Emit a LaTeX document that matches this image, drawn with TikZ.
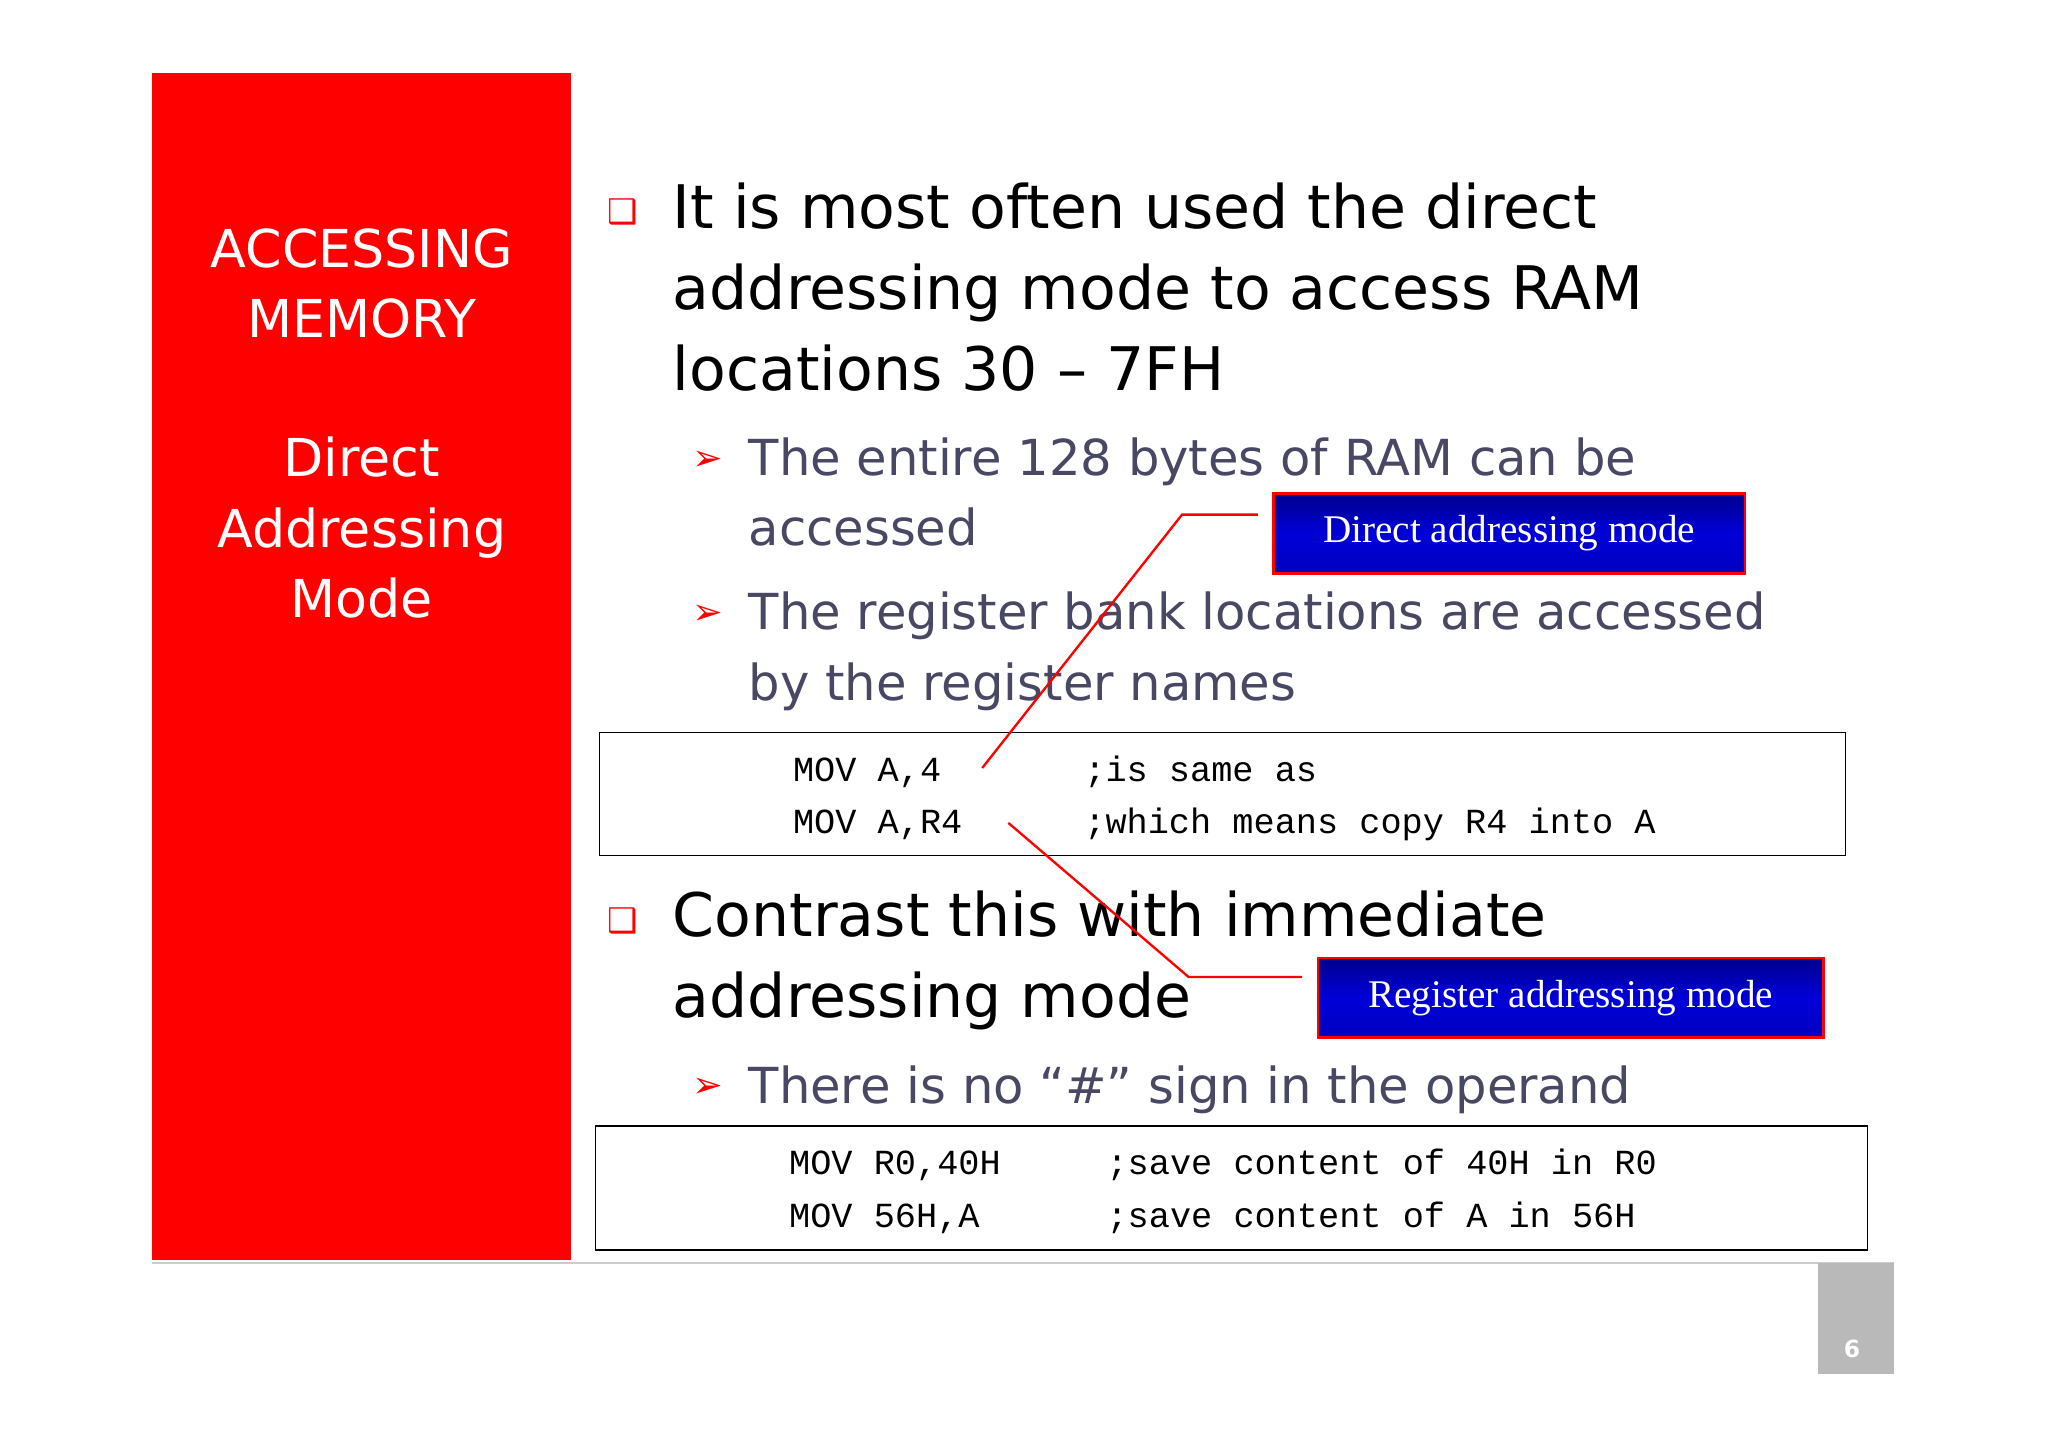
\documentclass[tikz,border=0pt]{standalone}
\usepackage{fontspec}
\setmainfont{DejaVu Sans}
\newfontfamily\serifx{Liberation Serif}
\newfontfamily\monox{Liberation Mono}
\begin{document}
\begin{tikzpicture}[x=1pt,y=-1pt,
  main/.style={anchor=base west,font=\fontsize{46}{56}\selectfont,text=black,inner sep=0},
  sub/.style={anchor=base west,font=\fontsize{38}{54}\selectfont,text=subc,inner sep=0},
  code/.style={anchor=base west,font=\monox\fontsize{27}{40}\selectfont,inner sep=0},
  lbl/.style={draw=red,line width=2pt,top color=blue!55!black,bottom color=blue!75!black,middle color=blue!85!black,text=white,font=\serifx\fontsize{30}{36}\selectfont,minimum height=61pt,inner sep=0},
  ln/.style={red,line width=1.8pt}]
\definecolor{subc}{RGB}{72,72,100}
\useasboundingbox (0,0) rectangle (1568,1108);
\fill[white] (0,0) rectangle (1568,1108);
\fill[red] (116,56) rectangle (437,965);
\draw[gray!40,line width=1pt] (116,967) -- (1450,967);
\fill[gray!55] (1392,967) rectangle (1450,1052);
\node[text=white,font=\bfseries\fontsize{18}{20}\selectfont] (pg) at (1418,1033) {6};
\node[text=white,align=center,font=\fontsize{40}{54}\selectfont] (t1) at (277,217) {ACCESSING\\MEMORY};
\node[text=white,align=center,font=\fontsize{40}{54}\selectfont] (t2) at (277,404) {Direct\\Addressing\\Mode};
% bullets
\node[red,font=\fontsize{26}{30}\selectfont] (b1) at (477,162) {❑};
\node[main] (m1) at (515,175) {It is most often used the direct};
\node[main] (m2) at (515,237) {addressing mode to access RAM};
\node[main] (m3) at (515,299) {locations 30 – 7FH};
\node[red,font=\fontsize{28}{30}\selectfont] (s1b) at (542,353) {➢};
\node[sub] (s1) at (573,364) {The entire 128 bytes of RAM can be};
\node[sub] (s1c) at (573,418) {accessed};
\node[red,font=\fontsize{28}{30}\selectfont] (s2b) at (542,471) {➢};
\node[sub] (s2) at (573,482) {The register bank locations are accessed};
\node[sub] (s2c) at (573,536) {by the register names};
\draw[line width=1pt] (459,561) rectangle (1413,655);
\node[code] (c1) at (607,598) {MOV A,4};
\node[code] (c1r) at (830,598) {;is same as};
\node[code] (c2) at (607,638) {MOV A,R4};
\node[code] (c2r) at (830,638) {;which means copy R4 into A};
\node[red,font=\fontsize{26}{30}\selectfont] (b2) at (477,705) {❑};
\node[main] (m4) at (515,717) {Contrast this with immediate};
\node[main] (m5) at (515,779) {addressing mode};
\node[red,font=\fontsize{28}{30}\selectfont] (s3b) at (542,833) {➢};
\node[sub] (s3) at (573,845) {There is no “\#” sign in the operand};
\draw[line width=1pt] (456,862) rectangle (1430,957);
\node[code] (c3) at (604,899) {MOV R0,40H};
\node[code] (c3r) at (847,899) {;save content of 40H in R0};
\node[code] (c4) at (604,940) {MOV 56H,A};
\node[code] (c4r) at (847,940) {;save content of A in 56H};
\node[lbl,minimum width=361pt] (L1) at (1155.5,408.5) {Direct addressing mode};
\node[lbl,minimum width=387pt] (L2) at (1202.5,764) {Register addressing mode};
\coordinate (p1) at (752,588);
\coordinate (p2) at (772,630);
\draw[ln] (p1) -- (905,394) -- (963,394);
\draw[ln] (p2) -- (910,748) -- (997,748);
\end{tikzpicture}
\end{document}
